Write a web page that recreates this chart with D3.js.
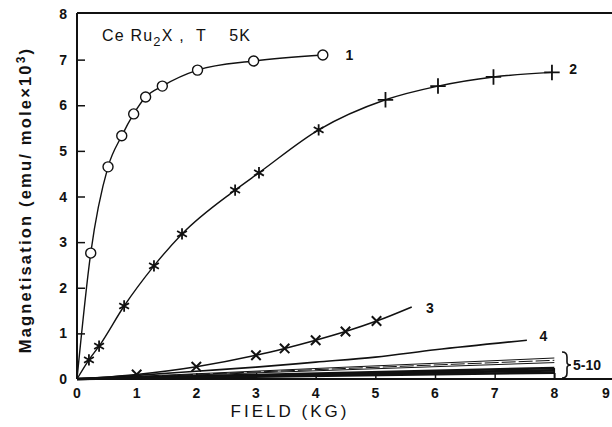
<!DOCTYPE html>
<html><head><meta charset="utf-8">
<script src="https://cdn.jsdelivr.net/npm/d3@7"></script>
<style>body{margin:0;background:#fff}svg text{font-family:"Liberation Sans",Arial,sans-serif;font-weight:bold;fill:#111;white-space:pre}</style>
</head><body>
<svg id="c" width="612" height="427"></svg>
<script>
const xTicks=[0,1,2,3,4,5,6,7,8,9];
const yTicks=[0,1,2,3,4,5,6,7,8];
const curve1=[[0,0],[0.23,2.76],[0.52,4.65],[0.75,5.33],[0.95,5.81],[1.15,6.18],[1.43,6.42],[2.02,6.77],[2.96,6.97],[4.12,7.1]];
const curve1Markers=curve1.slice(1);
const curve2=[[0,0],[0.2,0.42],[0.37,0.72],[0.79,1.6],[1.29,2.48],[1.76,3.18],[2.65,4.14],[3.05,4.52],[4.05,5.46],[5.17,6.12],[6.05,6.42],[6.98,6.62],[7.96,6.72]];
const curve2Markers=curve2.slice(1);
const curve3=[[0,0],[1.0,0.1],[2.0,0.27],[3.0,0.52],[3.48,0.67],[4.0,0.85],[4.5,1.04],[5.02,1.27],[5.61,1.58]];
const curve3Markers=curve3.slice(1,8);
const curve4=[[0,0],[1,0.08],[2,0.17],[3,0.26],[4,0.37],[5,0.48],[6,0.64],[7.54,0.85]];
const curves510End=[0.46,0.41,0.36,0.24,0.19,0.14];
const curveLabels=[["1",4.5,7.1],["2",8.25,6.8],["3",5.85,1.55],["4",7.75,0.95]];

const svg=d3.select("#c");
const x=d3.scaleLinear().domain([0,9]).range([77,614]);
const y=d3.scaleLinear().domain([0,8]).range([379,14]);

// frame: left, top, bottom
svg.append("line").attr("x1",x(0)).attr("x2",x(0)).attr("y1",y(8)-1).attr("y2",y(0)).attr("stroke","#111").attr("stroke-width",2);
svg.append("line").attr("x1",x(0)).attr("x2",612).attr("y1",y(8)-1).attr("y2",y(8)-1).attr("stroke","#111").attr("stroke-width",2);
svg.append("line").attr("x1",x(0)).attr("x2",612).attr("y1",y(0)).attr("y2",y(0)).attr("stroke","#111").attr("stroke-width",2);

const gy=svg.append("g").attr("transform",`translate(${x(0)},0)`)
  .call(d3.axisRight(y).tickValues(yTicks.slice(1,8)).tickSize(8).tickFormat(""));
gy.select(".domain").remove();
gy.selectAll("line").attr("stroke","#111").attr("stroke-width",1.5);
svg.selectAll(".ylab").data(yTicks).join("text").attr("x",67).attr("y",d=>y(d)+5)
  .attr("text-anchor","end").attr("font-size",14).text(d=>d);

const gx=svg.append("g").attr("transform",`translate(0,${y(0)})`)
  .call(d3.axisTop(x).tickValues(xTicks.slice(1,9)).tickSize(6).tickFormat(""));
gx.select(".domain").remove();
gx.selectAll("line").attr("stroke","#111").attr("stroke-width",1.5);
svg.selectAll(".xlab").data(xTicks).join("text").attr("x",d=>Math.min(x(d),606)).attr("y",398)
  .attr("text-anchor","middle").attr("font-size",14).text(d=>d);

const line=d3.line().x(d=>x(d[0])).y(d=>y(d[1])).curve(d3.curveMonotoneX);
const g=svg.append("g").attr("fill","none").attr("stroke","#111");
g.append("path").datum(curve1).attr("d",line).attr("stroke-width",1.4);
g.append("path").datum(curve2).attr("d",line).attr("stroke-width",1.4);
g.append("path").datum(curve3).attr("d",line).attr("stroke-width",1.6);
g.append("path").datum(curve4).attr("d",line).attr("stroke-width",1.6);
const straight=d3.line().x(d=>x(d[0])).y(d=>y(d[1]));
curves510End.forEach((v,i)=>{
  g.append("path").datum([[0,0],[8,v]]).attr("d",straight)
   .attr("stroke-width",i<3?1:2.6).attr("stroke-dasharray",i===1?"14,3":null);
});
g.append("line").attr("x1",x(8)).attr("x2",x(8)).attr("y1",y(0.24)).attr("y2",y(0)).attr("stroke-width",1.5);

// markers
svg.selectAll(".c1").data(curve1Markers).join("circle").attr("cx",d=>x(d[0])).attr("cy",d=>y(d[1]))
  .attr("r",5).attr("fill","#fff").attr("stroke","#111").attr("stroke-width",1.4);
svg.selectAll(".c2").data(curve2Markers).join("path").attr("transform",d=>`translate(${x(d[0])},${y(d[1])})`)
  .attr("d",(d,i)=>i<8?d3.symbol().type(d3.symbolAsterisk).size(90)():d3.symbol().type(d3.symbolPlus).size(80)())
  .attr("fill","none").attr("stroke","#111").attr("stroke-width",1.8);
svg.selectAll(".c3").data(curve3Markers).join("path").attr("transform",d=>`translate(${x(d[0])},${y(d[1])})`)
  .attr("d",d3.symbol().type(d3.symbolTimes).size(60)()).attr("fill","none").attr("stroke","#111").attr("stroke-width",2);

svg.selectAll(".cl").data(curveLabels).join("text").attr("x",d=>x(d[1])).attr("y",d=>y(d[2])+5)
  .attr("font-size",14).text(d=>d[0]);

// brace and 5-10 label
svg.append("path").attr("d","M562,352 Q567,352 567,357 L567,362 Q567,365 571,365 Q567,365 567,368 L567,373 Q567,378 562,378")
  .attr("fill","none").attr("stroke","#111").attr("stroke-width",1.6);
svg.append("text").attr("x",573).attr("y",370).attr("font-size",14).text("5-10");

// title
const t=svg.append("text").attr("x",102).attr("y",41).attr("font-size",16).attr("letter-spacing",1.2).style("font-weight","normal");
t.append("tspan").text("Ce Ru");
t.append("tspan").attr("dy",5).attr("font-size",13).text("2");
t.append("tspan").attr("dy",-5).text("X ,  T    5K");

// axis titles
svg.append("text").attr("x",290).attr("y",417).attr("text-anchor","middle").attr("font-size",17)
  .attr("letter-spacing",3).style("font-weight","normal").text("FIELD (KG)");
const yl=svg.append("text").attr("transform","translate(31,200) rotate(-90)").attr("text-anchor","middle")
  .attr("font-size",16.5).attr("letter-spacing",2.2);
yl.append("tspan").text("Magnetisation (emu/ mole\u00d710");
yl.append("tspan").attr("dy",-6).attr("font-size",12).text("3");
yl.append("tspan").attr("dy",6).text(")");
</script></body></html>
